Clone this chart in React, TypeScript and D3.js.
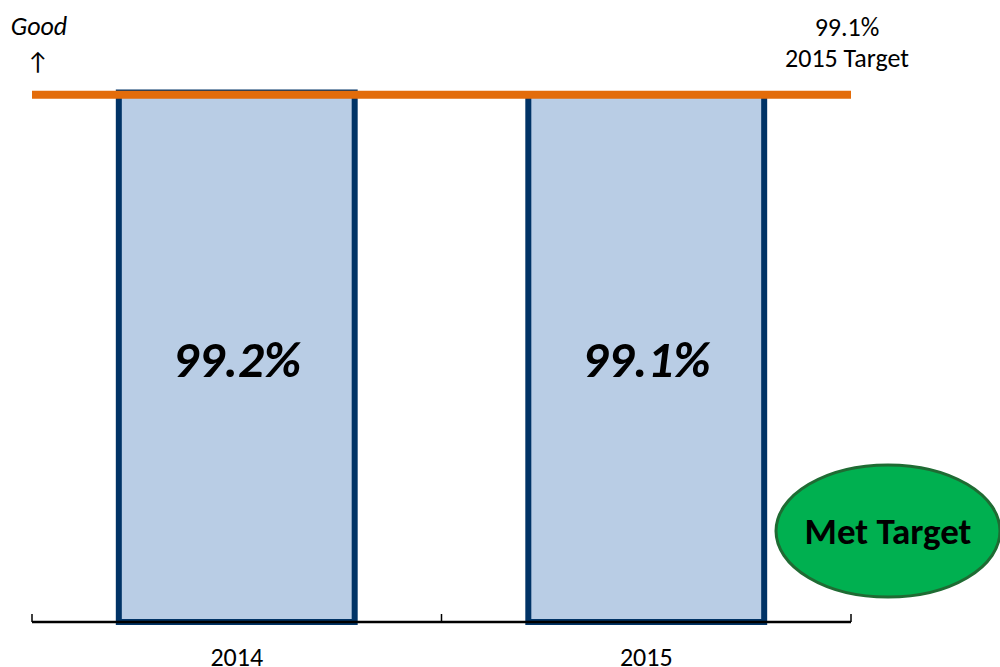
import React from "react";
import * as d3 from "d3";

const categories = ["2014", "2015"];
const values = [99.2, 99.1];
const barLabels = ["99.2%", "99.1%"];
const targetValue = 99.1;
const targetLabels = ["99.1%", "2015 Target"];
const yDomain = [75, 100];

export default function App() {
  const W = 1000, H = 667;
  const left = 32, right = 851, top = 75, bottom = 622;
  const x = d3.scaleBand().domain(categories).range([left, right]).paddingInner(0.424).paddingOuter(0.212);
  const y = d3.scaleLinear().domain(yDomain).range([bottom, top]);
  const font = "Carlito, Calibri, Lato, sans-serif";
  const ticks = [left, (left + right) / 2, right];
  return (
    <svg width={W} height={H} style={{ position: "absolute", left: 0, top: 0 }} fontFamily={font}>
      <rect width={W} height={H} fill="#fff" />
      {categories.map((c, i) => (
        <g key={c}>
          <rect x={x(c)!} y={y(values[i])} width={x.bandwidth()} height={bottom - y(values[i])}
            fill="#B9CDE5" stroke="#003366" strokeWidth={6} />
          <text x={x(c)! + x.bandwidth() / 2} y={377} textAnchor="middle" fontSize={51}
            fontWeight="bold" fontStyle="italic" fill="#000">{barLabels[i]}</text>
          <text x={x(c)! + x.bandwidth() / 2} y={666} textAnchor="middle" fontSize={26} fill="#000">{c}</text>
        </g>
      ))}
      <line x1={left} x2={right} y1={bottom} y2={bottom} stroke="#000" strokeWidth={2.5} />
      {ticks.map((t, i) => (
        <line key={i} x1={t} x2={t} y1={bottom} y2={bottom - 8} stroke="#000" strokeWidth={1.5} />
      ))}
      <line x1={left} x2={right} y1={y(targetValue)} y2={y(targetValue)} stroke="#E36C0A" strokeWidth={8} />
      <text x={847} y={36} textAnchor="middle" fontSize={26} fill="#000">{targetLabels[0]}</text>
      <text x={847} y={67} textAnchor="middle" fontSize={26} fill="#000">{targetLabels[1]}</text>
      <text x={39} y={35} textAnchor="middle" fontSize={26} fontStyle="italic" fill="#000">Good</text>
      <text x={38} y={70} textAnchor="middle" fontSize={25} fill="#000">↑</text>
      <ellipse cx={888} cy={531} rx={112} ry={66} fill="#00B050" stroke="#1F6B33" strokeWidth={3} />
      <text x={888} y={544} textAnchor="middle" fontSize={37} fontWeight="bold" fill="#000">Met Target</text>
    </svg>
  );
}
